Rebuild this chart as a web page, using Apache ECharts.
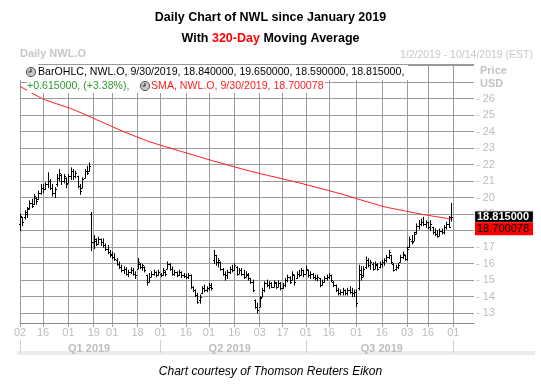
<!DOCTYPE html>
<html><head><meta charset="utf-8">
<script src="https://cdn.jsdelivr.net/npm/echarts@6/dist/echarts.min.js"></script>
<style>html,body{margin:0;padding:0;background:#fff}#c{width:541px;height:391px}</style>
</head><body><div id="c"></div>
<script>
// ---------- data ----------
const firstDay = '2019-01-02';
const lastAxisDay = '2019-10-14';
const holidays = ['2019-01-21','2019-02-18','2019-04-19','2019-05-27','2019-07-04','2019-09-02'];
const tickDays = ['2019-01-02','2019-01-16','2019-02-01','2019-02-19','2019-03-01','2019-03-18','2019-04-01','2019-04-16','2019-05-01','2019-05-16','2019-06-03','2019-06-17','2019-07-01','2019-07-16','2019-08-01','2019-08-16','2019-09-03','2019-09-16','2019-10-01'];
const quarterStarts = ['2019-01-02','2019-04-01','2019-07-01','2019-10-01'];
const quarterLabelDays = ['2019-02-14','2019-05-14','2019-08-16'];
const quarterNames = ['Q1 2019','Q2 2019','Q3 2019'];

// daily bars: [open, high, low, close]
const bars = [
[18.4,19.0,18.0,18.9],[18.8,18.8,18.3,18.5],[18.8,19.2,18.7,19.1],[19.0,19.4,18.8,19.3],[19.4,19.8,19.3,19.7],
[19.7,19.9,19.4,19.5],[19.6,20.2,19.6,20.1],[20.0,20.0,19.6,19.8],[19.9,20.4,19.9,20.3],[20.3,20.8,20.2,20.6],
[20.6,20.8,20.3,20.5],[20.5,20.9,20.5,20.8],[20.8,21.5,20.6,21.0],[21.0,21.1,20.5,20.6],[20.6,20.8,20.1,20.3],
[20.3,20.6,20.0,20.5],[20.8,21.4,20.7,21.2],[21.2,21.7,21.0,21.5],[21.4,21.4,20.8,21.0],[21.0,21.4,20.9,21.3],
[21.2,21.2,20.6,20.8],[20.9,21.4,20.9,21.3],[21.3,21.8,21.1,21.6],[21.6,21.7,21.1,21.3],[21.3,21.6,21.2,21.5],
[21.3,21.3,20.6,20.7],[20.7,20.8,20.2,20.4],[20.6,21.2,20.6,21.1],[21.2,21.7,21.2,21.6],[21.6,21.9,21.4,21.5],
[21.6,22.1,21.6,21.9],[19.0,19.1,16.8,17.3],[17.3,17.7,16.9,17.5],[17.4,17.5,17.1,17.2],[17.2,17.6,17.2,17.5],
[17.5,17.5,17.1,17.3],[17.3,17.5,17.0,17.1],[17.1,17.2,16.8,16.9],[16.9,17.1,16.6,16.7],[16.7,16.8,16.4,16.5],
[16.6,16.7,16.3,16.4],[16.4,16.6,16.2,16.3],[16.2,16.3,15.9,16.0],[16.0,16.1,15.7,15.8],[15.8,15.9,15.5,15.6],
[15.6,15.8,15.4,15.7],[15.7,15.75,15.3,15.4],[15.4,15.6,15.2,15.5],[15.5,15.75,15.4,15.6],[15.6,15.7,15.3,15.4],
[15.4,15.5,15.1,15.3],[15.7,16.3,15.7,16.1],[16.0,16.0,15.7,15.8],[15.8,15.95,15.6,15.9],[15.8,15.8,15.5,15.6],
[15.3,15.3,14.7,14.9],[14.9,15.4,14.9,15.2],[15.2,15.5,15.2,15.4],[15.4,15.6,15.3,15.5],[15.5,15.5,15.2,15.3],
[15.3,15.6,15.3,15.5],[15.4,15.4,15.2,15.3],[15.3,15.7,15.3,15.6],[15.5,15.55,15.25,15.4],[15.7,16.1,15.7,16.0],
[16.0,16.0,15.6,15.7],[15.7,15.8,15.3,15.4],[15.4,15.6,15.3,15.5],[15.5,15.5,15.2,15.3],[15.3,15.6,15.3,15.5],
[15.5,15.5,15.15,15.3],[15.3,15.4,15.15,15.25],[15.25,15.35,15.1,15.2],[15.2,15.4,15.1,15.3],[15.3,15.3,14.5,14.6],
[14.6,14.6,14.3,14.4],[14.4,14.4,14.0,14.1],[14.1,14.2,13.6,13.7],[13.8,14.1,13.6,14.0],[14.2,14.6,14.2,14.5],
[14.5,14.7,14.3,14.4],[14.4,14.6,14.3,14.5],[14.5,14.8,14.4,14.7],[14.6,14.8,14.4,14.5],[16.2,16.8,16.0,16.5],
[16.5,16.5,15.9,16.1],[16.1,16.3,15.8,16.2],[16.1,16.1,15.6,15.7],[15.7,15.7,15.3,15.4],[15.4,15.5,15.0,15.3],
[15.3,15.6,15.1,15.5],[15.5,15.8,15.4,15.7],[15.7,15.9,15.5,15.6],[15.6,16.0,15.6,15.9],[15.8,15.8,15.3,15.4],
[15.4,15.7,15.4,15.6],[15.6,15.7,15.3,15.4],[15.4,15.6,15.1,15.2],[15.2,15.5,15.2,15.4],[15.3,15.4,15.0,15.1],
[15.1,15.1,14.8,14.9],[14.9,15.0,14.3,14.4],[13.8,13.8,13.3,13.4],[13.4,13.6,13.0,13.2],[13.4,14.0,13.4,13.9],
[14.0,14.5,14.0,14.4],[14.4,14.9,14.3,14.8],[14.8,15.0,14.6,14.7],[14.7,14.9,14.5,14.8],[14.8,14.85,14.55,14.6],
[14.6,14.95,14.6,14.9],[14.8,14.85,14.5,14.6],[14.6,14.95,14.6,14.8],[14.8,14.85,14.4,14.5],[14.5,14.8,14.5,14.7],
[14.7,15.1,14.6,15.0],[15.0,15.3,14.9,15.2],[15.2,15.2,14.8,14.9],[15.0,15.5,15.0,15.4],[15.3,15.3,14.7,14.9],
[15.1,15.5,15.1,15.4],[15.4,15.6,15.2,15.3],[15.3,15.7,15.3,15.6],[15.6,15.6,15.2,15.4],[15.4,15.85,15.4,15.7],
[15.6,15.6,15.2,15.3],[15.3,15.5,15.1,15.4],[15.4,15.4,15.1,15.2],[15.2,15.3,15.0,15.1],[15.1,15.3,14.95,15.2],
[15.1,15.1,14.6,14.7],[14.7,15.0,14.7,14.9],[14.9,15.2,14.9,15.1],[15.1,15.3,15.0,15.2],[15.2,15.4,15.1,15.3],
[15.3,15.3,14.9,15.0],[14.9,14.9,14.6,14.7],[14.7,14.7,14.3,14.4],[14.4,14.5,14.1,14.2],[14.2,14.4,14.1,14.3],
[14.3,14.5,14.1,14.4],[14.4,14.4,14.1,14.2],[14.2,14.5,14.1,14.4],[14.4,14.6,14.2,14.3],[14.3,14.5,14.0,14.2],
[14.2,14.4,14.0,14.3],[14.3,14.4,13.4,13.6],[14.5,15.9,14.4,15.6],[15.4,15.8,15.0,15.2],[15.3,15.8,15.2,15.7],
[15.8,16.4,15.7,16.2],[16.2,16.3,15.8,15.9],[15.9,16.2,15.65,16.1],[16.0,16.05,15.6,15.7],[15.7,16.1,15.7,16.0],
[15.9,16.0,15.6,15.7],[15.8,16.1,15.75,16.0],[16.0,16.2,15.8,16.1],[16.1,16.3,15.9,16.2],[16.2,16.5,16.1,16.4],
[16.4,16.8,16.3,16.7],[16.5,16.5,16.0,16.1],[16.0,16.0,15.55,15.6],[15.7,15.9,15.6,15.8],[15.8,16.0,15.7,15.9],
[16.1,16.5,16.1,16.4],[16.4,16.7,16.3,16.6],[16.5,16.5,16.2,16.3],[16.3,17.0,16.2,16.9],[17.0,17.6,17.0,17.5],
[17.4,17.7,17.2,17.3],[17.4,17.9,17.4,17.8],[17.9,18.4,17.8,18.3],[18.3,18.6,18.1,18.4],[18.4,18.7,18.3,18.5],
[18.5,18.8,18.3,18.4],[18.4,18.6,18.2,18.5],[18.5,18.5,18.1,18.2],[18.2,18.6,18.0,18.4],[18.2,18.2,17.8,17.9],
[17.9,18.1,17.7,17.8],[17.8,18.0,17.6,17.7],[17.7,18.1,17.7,18.0],[18.0,18.1,17.8,17.9],[17.9,18.3,17.8,18.2],
[18.2,18.5,18.1,18.4],[18.4,18.85,18.2,18.2],[18.84,19.65,18.59,18.815]
];

// 320-day SMA, read at selected trading-day indices
const smaDay   = [0,    10,   22,   32,   45,   56,   70,   82,   100,  121,  141,  147,  158,  165,  174,  187];
const smaValue = [26.75,25.98,25.4, 24.8, 24.0, 23.4, 22.8, 22.3, 21.6, 20.9, 20.16,19.9, 19.45,19.25,19.0, 18.70];

const lastClose = 18.815;
const lastSma = 18.700078;
const yMin = 12.4, yMax = 28.1;

// ---------- build ----------
function buildTradingDays(from, to, hol) {
  const out = [];
  const d = new Date(from + 'T00:00:00Z');
  const end = new Date(to + 'T00:00:00Z');
  while (d <= end) {
    const s = d.toISOString().slice(0, 10);
    const wd = d.getUTCDay();
    if (wd !== 0 && wd !== 6 && hol.indexOf(s) < 0) out.push(s);
    d.setUTCDate(d.getUTCDate() + 1);
  }
  return out;
}
const dates = buildTradingDays(firstDay, lastAxisDay, holidays);
const tickSet = new Set(tickDays);
const qStartSet = new Set(quarterStarts);
const qLabelMap = {};
quarterLabelDays.forEach((d, k) => qLabelMap[d] = quarterNames[k]);

const FONT = 'Liberation Sans, Arial, sans-serif';
const chart = echarts.init(document.getElementById('c'));

const ohlcData = bars.map((b, i) => [i, b[0], b[1], b[2], b[3]]);
const smaData = smaDay.map((d, k) => [d, smaValue[k]]);

const option = {
  animation: false,
  backgroundColor: '#fff',
  title: [
    {text: 'Daily Chart of NWL since January 2019', left: 'center', top: 6,
     textStyle: {fontFamily: FONT, fontSize: 12.5, fontWeight: 'bold', color: '#000'}},
    {text: 'With {r|320-Day} Moving Average', left: 'center', top: 27,
     textStyle: {fontFamily: FONT, fontSize: 12.5, fontWeight: 'bold', color: '#000',
       rich: {r: {fontFamily: FONT, fontSize: 12.5, fontWeight: 'bold', color: '#ff0000'}}}},
    {text: 'Chart courtesy of Thomson Reuters Eikon', left: 'center', top: 361,
     textStyle: {fontFamily: FONT, fontSize: 12, fontStyle: 'italic', fontWeight: 'normal', color: '#000'}}
  ],
  grid: {left: 20, right: 67, top: 64, bottom: 68, containLabel: false},
  xAxis: [
    {type: 'category', data: dates, boundaryGap: false, position: 'bottom',
     axisLine: {show: true, lineStyle: {color: '#8a8a8a', width: 1}},
     axisTick: {show: true, interval: (i, v) => tickSet.has(v), length: 4, lineStyle: {color: '#a0a0a0'}},
     axisLabel: {interval: (i, v) => tickSet.has(v), formatter: v => v.slice(8), color: '#bdbdbd',
       fontFamily: FONT, fontSize: 11, margin: 4},
     splitLine: {show: true, interval: (i, v) => tickSet.has(v), lineStyle: {color: '#9a9a9a', width: 1}}},
    {type: 'category', data: dates, boundaryGap: false, position: 'bottom', offset: 17,
     axisLine: {show: false},
     axisTick: {show: true, interval: (i, v) => qStartSet.has(v), length: 13, lineStyle: {color: '#d0d0d0'}},
     axisLabel: {interval: (i, v) => !!qLabelMap[v], formatter: v => qLabelMap[v] || '', color: '#bdbdbd',
       fontFamily: FONT, fontSize: 11, fontWeight: 'bold', margin: 3},
     splitLine: {show: false}}
  ],
  yAxis: {
    type: 'value', position: 'right', min: yMin, max: yMax, splitNumber: 15, scale: true,
    axisLine: {show: false}, axisTick: {show: false},
    axisLabel: {formatter: v => (Math.abs(v - Math.round(v)) < 1e-6 && v >= 13 && v <= 26) ? '- ' + Math.round(v) : '',
      color: '#bdbdbd', fontFamily: FONT, fontSize: 11, margin: 2},
    splitLine: {show: true, lineStyle: {color: '#9a9a9a', width: 1}}
  },
  series: [
    {type: 'custom', name: 'BarOHLC', xAxisIndex: 0, data: ohlcData, encode: {x: 0, y: [1, 2, 3, 4]},
     renderItem: function (params, api) {
       const x = api.value(0);
       const o = api.coord([x, api.value(1)]);
       const h = api.coord([x, api.value(2)]);
       const l = api.coord([x, api.value(3)]);
       const c = api.coord([x, api.value(4)]);
       const px = Math.round(o[0]) + 0.5;
       const st = {stroke: '#000', lineWidth: 1};
       return {type: 'group', children: [
         {type: 'line', shape: {x1: px, y1: h[1] - 0.5, x2: px, y2: l[1] + 0.5}, style: st},
         {type: 'line', shape: {x1: px - 1.5, y1: Math.round(o[1]) + 0.5, x2: px, y2: Math.round(o[1]) + 0.5}, style: st},
         {type: 'line', shape: {x1: px, y1: Math.round(c[1]) + 0.5, x2: px + 1.5, y2: Math.round(c[1]) + 0.5}, style: st}
       ]};
     }},
    {type: 'line', name: 'SMA', xAxisIndex: 0, data: smaData, showSymbol: false, smooth: 0.2,
     lineStyle: {color: '#ff1a1a', width: 1}, z: 3}
  ]
};
chart.setOption(option);

function clock(cx, cy) {
  return {type: 'group', x: cx, y: cy, z: 20, children: [
    {type: 'circle', z: 20, shape: {cx: 0, cy: 0, r: 4.6}, style: {fill: '#c8c8c8', stroke: '#505050', lineWidth: 1}},
    {type: 'line', z: 21, shape: {x1: 0, y1: 0, x2: 0, y2: -3}, style: {stroke: '#202020', lineWidth: 1}},
    {type: 'line', z: 21, shape: {x1: 0, y1: 0, x2: -2.5, y2: 0}, style: {stroke: '#202020', lineWidth: 1}}
  ]};
}

const yc = chart.convertToPixel({yAxisIndex: 0}, lastClose);
const rightX = 475;
const boxW = 58;
const gray = '#c4c4c4';
const graphics = [
  // legend backgrounds
  {type: 'rect', shape: {x: 20, y: 62, width: 18, height: 18}, style: {fill: '#fff'}, z: 10},
  {type: 'rect', shape: {x: 38, y: 65, width: 370, height: 15}, style: {fill: '#fff'}, z: 10},
  {type: 'rect', shape: {x: 27, y: 80, width: 298, height: 13}, style: {fill: '#fff'}, z: 10},
  clock(31, 72),
  {type: 'text', x: 38, y: 72, z: 11, style: {text: 'BarOHLC, NWL.O, 9/30/2019, 18.840000, 19.650000, 18.590000, 18.815000,',
    fill: '#000', font: '10.6px ' + FONT, textVerticalAlign: 'middle'}},
  {type: 'text', x: 27, y: 86, z: 11, style: {text: '+0.615000, (+3.38%),',
    fill: '#2e9b2e', font: '10.6px ' + FONT, textVerticalAlign: 'middle'}},
  clock(145, 86),
  {type: 'text', x: 151, y: 86, z: 11, style: {text: 'SMA, NWL.O, 9/30/2019, 18.700078',
    fill: '#ff2020', font: '10.6px ' + FONT, textVerticalAlign: 'middle'}},
  // header texts
  {type: 'text', x: 20, y: 54, style: {text: 'Daily NWL.O', fill: '#c8c8c8', font: 'bold 11px ' + FONT, textVerticalAlign: 'middle'}},
  {type: 'text', x: 533, y: 55.5, style: {text: '1/2/2019 - 10/14/2019 (EST)', fill: '#c8c8c8', font: '10.5px ' + FONT,
    textAlign: 'right', textVerticalAlign: 'middle'}},
  {type: 'text', x: 480, y: 70.5, style: {text: 'Price', fill: gray, font: 'bold 11px ' + FONT, textVerticalAlign: 'middle'}},
  {type: 'text', x: 480, y: 84, style: {text: 'USD', fill: gray, font: 'bold 11px ' + FONT, textVerticalAlign: 'middle'}},
  // last value markers
  {type: 'rect', shape: {x: rightX, y: yc - 6, width: boxW, height: 11}, style: {fill: '#000', stroke: '#9ab', lineWidth: 0.5}, z: 12},
  {type: 'text', x: rightX + 2, y: yc - 0.5, z: 13, style: {text: '18.815000', fill: '#fff', font: 'bold 11px ' + FONT, textVerticalAlign: 'middle'}},
  {type: 'rect', shape: {x: rightX, y: yc + 5, width: boxW, height: 13}, style: {fill: '#ff0000'}, z: 12},
  {type: 'text', x: rightX + 2, y: yc + 11.5, z: 13, style: {text: '18.700078', fill: '#000', font: '11px ' + FONT, textVerticalAlign: 'middle'}},
  // bottom band
  {type: 'rect', shape: {x: 17, y: 351, width: 518, height: 4}, style: {fill: '#ececec'}, z: 0}
];
chart.setOption({graphic: graphics});
</script>
</body></html>
